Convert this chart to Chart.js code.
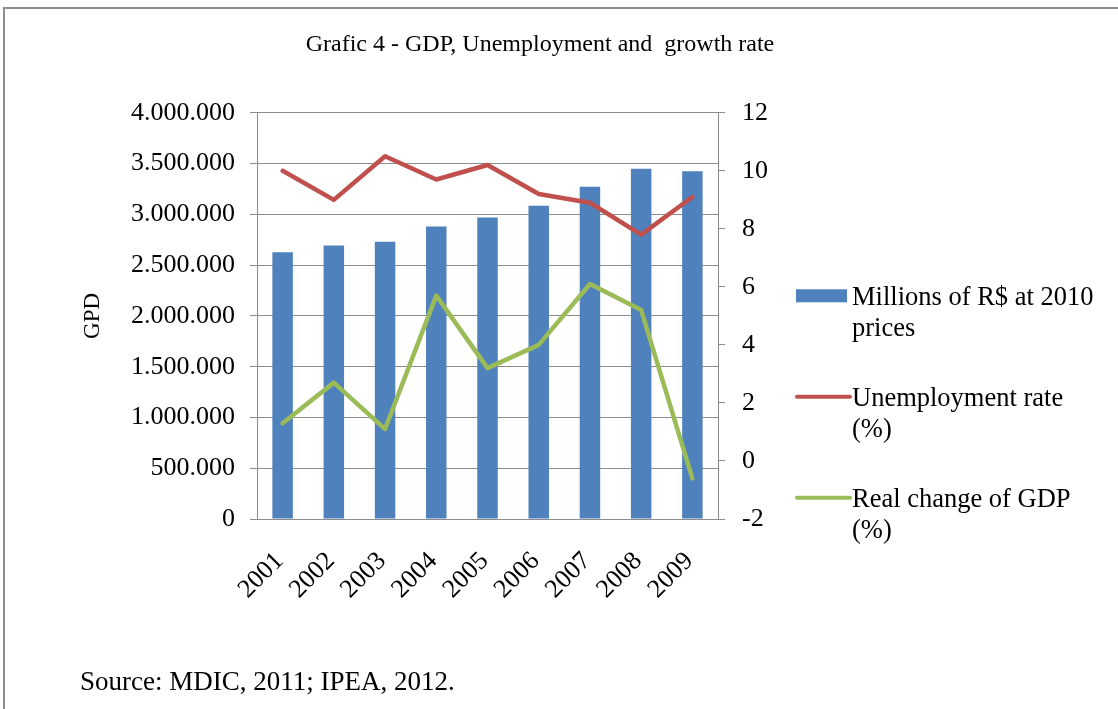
<!DOCTYPE html>
<html>
<head>
<meta charset="utf-8">
<title>GDP, Unemployment and growth rate</title>
<script src="https://cdn.jsdelivr.net/npm/chart.js@4.4.1/dist/chart.umd.min.js"></script>
<style>
  html, body { margin: 0; padding: 0; background: #fff; overflow: hidden; }
  #wrap { position: relative; width: 1118px; height: 709px; overflow: hidden; }
  #frame {
    position: absolute; left: 3px; top: 7px; right: -20px; bottom: -20px;
    border-top: 2px solid #8c8c8c; border-left: 2px solid #8c8c8c;
  }
  #chart { position: absolute; left: 0; top: 0; }
</style>
</head>
<body>
<div id="wrap">
  <div id="frame"></div>
  <canvas id="chart" width="1118" height="709"></canvas>
</div>
<script>
// Years on the category axis
const years = ['2001', '2002', '2003', '2004', '2005', '2006', '2007', '2008', '2009'];

// GDP, millions of R$ at 2010 prices (left axis)
const gdp = [2626000, 2693000, 2729000, 2880000, 2968000, 3084000, 3271000, 3448000, 3425000];

// Unemployment rate and real GDP change, % (right axis)
const unemployment = [10.0, 9.0, 10.5, 9.7, 10.2, 9.2, 8.9, 7.8, 9.1];
const gdpChange = [1.3, 2.7, 1.1, 5.7, 3.2, 4.0, 6.1, 5.2, -0.6];

const seriesNames = ['Millions of R$ at 2010 prices', 'Unemployment rate (%)', 'Real change of GDP (%)'];
const chartTitle = 'Grafic 4 - GDP, Unemployment and  growth rate';
const axisTitle = 'GPD';
const sourceNote = 'Source: MDIC, 2011; IPEA, 2012.';

const SERIF = "'Liberation Serif', 'Times New Roman', serif";
const gridColor = '#8c8c8c';
const tickFont = { family: SERIF, size: 26 };

function dotted(v) {
  return String(v).replace(/\B(?=(\d{3})+(?!\d))/g, '.');
}

// split a legend label into lines no wider than maxWidth
function wrap(ctx, text, maxWidth) {
  const words = text.split(' ');
  const lines = [];
  let cur = '';
  words.forEach(w => {
    const test = cur ? cur + ' ' + w : w;
    if (cur && ctx.measureText(test).width > maxWidth) {
      lines.push(cur);
      cur = w;
    } else {
      cur = test;
    }
  });
  if (cur) lines.push(cur);
  return lines;
}

// legend to the right of the plot, plus the source line under the chart
const sideLegend = {
  id: 'sideLegend',
  afterDraw(chart) {
    const { ctx, chartArea } = chart;
    ctx.save();
    ctx.font = '26.5px ' + SERIF;
    ctx.fillStyle = '#000';
    ctx.textBaseline = 'alphabetic';
    const keyX = chartArea.right + 78;
    const textX = chartArea.right + 134;
    chart.data.datasets.forEach((ds, i) => {
      const cy = chartArea.top + 183 + i * 101;
      if (ds.type === 'bar') {
        ctx.fillStyle = ds.backgroundColor;
        ctx.fillRect(keyX, cy - 6.5, 51, 13);
      } else {
        ctx.strokeStyle = ds.borderColor;
        ctx.lineWidth = 4;
        ctx.lineCap = 'round';
        ctx.beginPath();
        ctx.moveTo(keyX + 1, cy);
        ctx.lineTo(keyX + 54, cy);
        ctx.stroke();
      }
      ctx.fillStyle = '#000';
      wrap(ctx, ds.label, 248).forEach((line, j) => {
        ctx.fillText(line, textX, cy + 9 + j * 31);
      });
    });
    ctx.font = '27px ' + SERIF;
    ctx.fillText(sourceNote, 80, 690);
    ctx.restore();
  }
};

const ctx = document.getElementById('chart').getContext('2d');
const chart = new Chart(ctx, {
  type: 'bar',
  data: {
    labels: years,
    datasets: [
      {
        type: 'bar',
        label: seriesNames[0],
        data: gdp,
        backgroundColor: '#4F81BD',
        yAxisID: 'y',
        order: 2,
        barPercentage: 0.4,
        categoryPercentage: 1
      },
      {
        type: 'line',
        label: seriesNames[1],
        data: unemployment,
        borderColor: '#C0504D',
        backgroundColor: '#C0504D',
        borderWidth: 4.5,
        pointRadius: 0,
        tension: 0,
        borderJoinStyle: 'round',
        borderCapStyle: 'round',
        yAxisID: 'y1',
        order: 1
      },
      {
        type: 'line',
        label: seriesNames[2],
        data: gdpChange,
        borderColor: '#9BBB59',
        backgroundColor: '#9BBB59',
        borderWidth: 4.5,
        pointRadius: 0,
        tension: 0,
        borderJoinStyle: 'round',
        borderCapStyle: 'round',
        yAxisID: 'y1',
        order: 0
      }
    ]
  },
  options: {
    responsive: false,
    animation: false,
    layout: { padding: { left: 0, right: 38, top: 0, bottom: 0 } },
    plugins: {
      legend: { display: false },
      tooltip: { enabled: false },
      title: {
        display: true,
        text: chartTitle,
        color: '#000',
        font: { family: SERIF, size: 24, weight: 'normal' },
        padding: { top: 30, bottom: 54 }
      }
    },
    scales: {
      x: {
        grid: { display: false, drawTicks: false },
        border: { display: true, color: gridColor },
        ticks: {
          color: '#000',
          font: tickFont,
          autoSkip: false,
          minRotation: 45,
          maxRotation: 45,
          padding: 27,
          labelOffset: -3
        },
        afterFit: s => { s.height = 190; }
      },
      y: {
        position: 'left',
        min: 0,
        max: 4000000,
        ticks: { stepSize: 500000, color: '#000', font: tickFont, padding: 15, callback: v => dotted(v) },
        grid: { color: gridColor, tickLength: 7 },
        border: { color: gridColor },
        title: {
          display: true,
          text: axisTitle,
          color: '#000',
          font: { family: SERIF, size: 23 },
          padding: { top: 79, bottom: 0 }
        },
        afterFit: s => { s.width = 257; }
      },
      y1: {
        position: 'right',
        min: -2,
        max: 12,
        ticks: { stepSize: 2, color: '#000', font: tickFont, padding: 17 },
        grid: { drawOnChartArea: false, color: gridColor, tickLength: 7 },
        border: { color: gridColor },
        afterFit: s => { s.width = 362; }
      }
    }
  },
  plugins: [sideLegend]
});
</script>
</body>
</html>
